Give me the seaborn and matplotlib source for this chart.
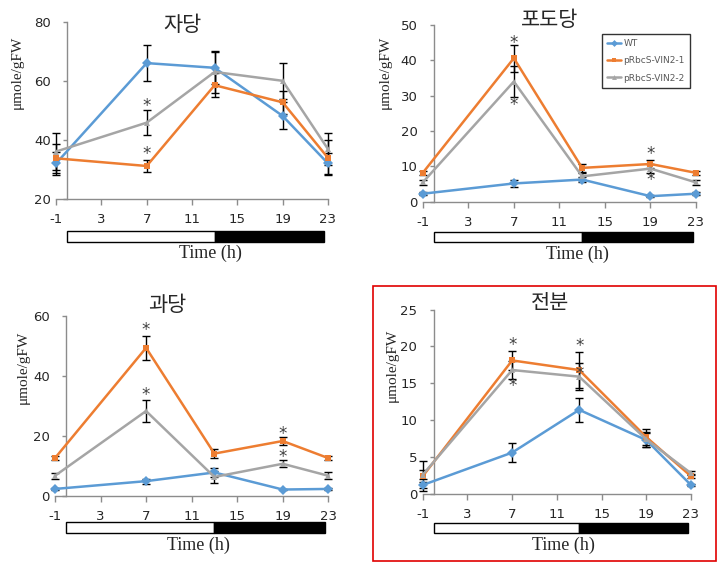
import numpy as np
import pandas as pd
import matplotlib
matplotlib.use("Agg")
import matplotlib.pyplot as plt
import matplotlib.transforms as mtransforms
from matplotlib.patches import Rectangle
import seaborn as sns

# time points (h)
hours = [-1, 7, 13, 19, 23]
lines_names = ["WT", "pRbcS-VIN2-1", "pRbcS-VIN2-2"]

# sucrose (자당)
suc_wt = [32.1, 66.1, 64.5, 48.2, 32.1]
suc_v1 = [33.8, 31.2, 58.6, 52.8, 34.0]
suc_v2 = [36.1, 45.9, 63.1, 60.1, 37.0]
suc_wt_err = [4.0, 6.0, 5.5, 4.6, 3.5]
suc_v1_err = [5.0, 2.0, 4.0, 4.0, 6.0]
suc_v2_err = [6.4, 4.2, 7.0, 6.2, 5.5]

# glucose (포도당)
glc_wt = [2.3, 5.2, 6.3, 1.6, 2.3]
glc_v1 = [8.2, 40.6, 9.6, 10.7, 8.2]
glc_v2 = [5.5, 34.0, 7.2, 9.4, 5.5]
glc_wt_err = [0.5, 0.9, 0.6, 0.3, 0.4]
glc_v1_err = [0.6, 3.8, 1.2, 1.0, 0.6]
glc_v2_err = [0.6, 4.4, 1.0, 1.2, 0.8]

# fructose (과당)
fru_wt = [2.4, 5.0, 7.9, 2.2, 2.4]
fru_v1 = [12.7, 49.5, 14.2, 18.4, 12.7]
fru_v2 = [6.8, 28.4, 6.4, 10.8, 6.8]
fru_wt_err = [0.4, 0.8, 1.5, 0.3, 0.4]
fru_v1_err = [0.8, 4.0, 1.5, 1.2, 0.8]
fru_v2_err = [1.0, 3.8, 2.0, 1.2, 1.2]

# starch (전분)
sta_wt = [1.2, 5.6, 11.4, 7.3, 1.2]
sta_v1 = [2.4, 18.1, 16.8, 7.7, 2.4]
sta_v2 = [2.6, 16.8, 15.9, 7.4, 2.8]
sta_wt_err = [0.4, 1.3, 1.6, 1.0, 0.2]
sta_v1_err = [2.0, 1.3, 2.4, 1.1, 0.3]
sta_v2_err = [0.6, 1.2, 1.8, 1.0, 0.3]

# significance marks: (x, y)
suc_stars = [(7, 51.5), (7, 35.3)]
glc_stars = [(7, 45.0), (7, 27.4), (19, 13.6), (19, 6.2)]
fru_stars = [(7, 55.4), (7, 33.8), (19, 20.6), (19, 12.9)]
sta_stars = [(7, 20.2), (7, 14.6), (13, 20.0), (13, 16.3)]

titles = ["자당", "포도당", "과당", "전분"]
ylims = [(20, 80), (0, 50), (0, 60), (0, 25)]
yticks = [[20, 40, 60, 80], [0, 10, 20, 30, 40, 50], [0, 20, 40, 60], [0, 5, 10, 15, 20, 25]]
xticks = [-1, 3, 7, 11, 15, 19, 23]

sns.set_style("white")
plt.rcParams['font.family'] = ['DejaVu Sans', 'Noto Sans CJK KR']
plt.rcParams['axes.unicode_minus'] = False

palette = {"WT": "#5B9BD5", "pRbcS-VIN2-1": "#ED7D31", "pRbcS-VIN2-2": "#A5A5A5"}
markers = {"WT": "D", "pRbcS-VIN2-1": "s", "pRbcS-VIN2-2": "^"}

panels = [
    (suc_wt, suc_v1, suc_v2, suc_wt_err, suc_v1_err, suc_v2_err, suc_stars),
    (glc_wt, glc_v1, glc_v2, glc_wt_err, glc_v1_err, glc_v2_err, glc_stars),
    (fru_wt, fru_v1, fru_v2, fru_wt_err, fru_v1_err, fru_v2_err, fru_stars),
    (sta_wt, sta_v1, sta_v2, sta_wt_err, sta_v1_err, sta_v2_err, sta_stars),
]

# axes rectangles (figure fraction) and extra layout per panel
rects = [
    [0.078, 0.649, 0.378, 0.312],
    [0.588, 0.644, 0.380, 0.312],
    [0.0765, 0.125, 0.380, 0.317],
    [0.588, 0.129, 0.373, 0.325],
]
bar_y = [(-0.243, -0.181), (-0.226, -0.169), (-0.206, -0.144), (-0.211, -0.158)]
xlabel_y = [-0.305, -0.299, -0.272, -0.277]
xlabel_x = [12.6, 12.6, 11.6, 11.6]
ylabel_pos = [(17, 72), (385, 72), (23, 367), (392, 365)]
title_pos = [(182, 25), (550, 20), (167, 305), (550, 303)]

fig = plt.figure(figsize=(7.19, 5.67), dpi=100)

for i, (wt, v1, v2, e0, e1, e2, stars) in enumerate(panels):
    ax = fig.add_axes(rects[i])
    df = pd.DataFrame({
        "hour": hours * 3,
        "value": wt + v1 + v2,
        "err": e0 + e1 + e2,
        "line": [n for n in lines_names for _ in hours],
    })
    for name in lines_names:
        sub = df[df["line"] == name]
        ax.errorbar(sub["hour"], sub["value"], yerr=sub["err"], fmt="none",
                    ecolor="black", elinewidth=1, capsize=3, capthick=1,
                    clip_on=False, zorder=2)
    sns.lineplot(data=df, x="hour", y="value", hue="line", style="line",
                 palette=palette, markers=markers, dashes=False,
                 markersize=5, markeredgewidth=0, linewidth=1.8,
                 legend=(i == 1), ax=ax, clip_on=False, zorder=3)
    for sx, sy in stars:
        ax.text(sx, sy, "*", ha="center", va="center", fontsize=12,
                color="#404040", zorder=4)

    ax.set_xlim(-1, 23)
    ax.set_ylim(*ylims[i])
    ax.set_xticks(xticks)
    ax.set_yticks(yticks[i])
    ax.set_xlabel("")
    ax.set_ylabel("")
    for s in ["top", "right"]:
        ax.spines[s].set_visible(False)
    ax.spines["left"].set_position(("data", 0))
    for s in ["left", "bottom"]:
        ax.spines[s].set_color("#8C8C8C")
        ax.spines[s].set_linewidth(1)
    ax.tick_params(axis="y", length=3, width=1, color="#8C8C8C", pad=9,
                   labelsize=9.5, left=True, direction="out")
    ax.tick_params(axis="x", length=4, width=1, color="#8C8C8C", pad=6,
                   labelsize=9.5, bottom=True, direction="out")

    # light / dark bar under the x axis
    trans = mtransforms.blended_transform_factory(ax.transData, ax.transAxes)
    y0, y1 = bar_y[i]
    ax.add_patch(Rectangle((0, y0), 13, y1 - y0, transform=trans,
                           facecolor="white", edgecolor="black", lw=1,
                           clip_on=False))
    ax.add_patch(Rectangle((13, y0), 9.7, y1 - y0, transform=trans,
                           facecolor="black", edgecolor="black", lw=1,
                           clip_on=False))
    ax.text(xlabel_x[i], xlabel_y[i], "Time (h)", transform=trans,
            ha="center", va="center", fontsize=13,
            family="Liberation Serif")

    px, py = ylabel_pos[i]
    fig.text(px / 719, 1 - py / 567, "μmole/gFW", rotation=90,
             ha="center", va="center", fontsize=11, family="Liberation Serif")
    tx, ty = title_pos[i]
    fig.text(tx / 719, 1 - ty / 567, titles[i], ha="center", va="center",
             fontsize=15, family=["Noto Sans CJK KR", "DejaVu Sans"])

    if i == 1:
        handles, labels = ax.get_legend_handles_labels()
        leg = ax.legend(handles, labels, loc="upper right",
                        bbox_to_anchor=(0.995, 0.975), fontsize=6.5,
                        frameon=True, fancybox=False, edgecolor="black",
                        handlelength=1.5, handletextpad=0.3,
                        labelspacing=0.9, borderpad=0.6, markerscale=0.7)
        leg.get_frame().set_linewidth(1)
        for t in leg.get_texts():
            t.set_color("#595959")

# red frame around the starch panel
fig.patches.append(Rectangle((373 / 719, 1 - 561 / 567), 343 / 719, 275 / 567,
                             transform=fig.transFigure, fill=False,
                             edgecolor="#E00000", lw=1.2))

fig.savefig("out.png", dpi=100)
